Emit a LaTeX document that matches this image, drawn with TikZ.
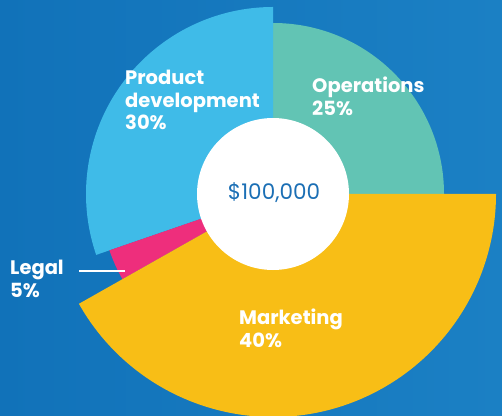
\documentclass[tikz,border=0pt]{standalone}
\usepackage{fontspec}
\setmainfont{Poppins}
\definecolor{bgleft}{HTML}{1172B9}
\definecolor{bgright}{HTML}{1B80C4}
\definecolor{opscol}{HTML}{62C4B4}
\definecolor{devcol}{HTML}{3FBBE8}
\definecolor{legcol}{HTML}{EE2E7C}
\definecolor{mktcol}{HTML}{F8BE16}
\definecolor{sumcol}{HTML}{1B6FB5}
\tikzset{
  lbl/.style={text=white, font=\fontsize{19.5}{22.5}\selectfont\bfseries, align=left, inner sep=0pt, anchor=north west},
}
\begin{document}
\begin{tikzpicture}[x=1pt,y=1pt]
  \useasboundingbox (0,0) rectangle (502,415);
  \shade[left color=bgleft, right color=bgright] (0,0) rectangle (502,415);
  \coordinate (c) at (273,221);
  % sectors
  \fill[opscol] (c) -- ++(0:171) arc[start angle=0, end angle=90, radius=171] -- cycle;
  \fill[devcol] (c) -- ++(90:187) arc[start angle=90, end angle=199, radius=187] -- cycle;
  \fill[legcol] (c) -- ++(199:173) arc[start angle=199, end angle=209.5, radius=173] -- cycle;
  \fill[mktcol] (c) -- ++(209.5:223) arc[start angle=209.5, end angle=360, radius=223] -- cycle;
  \node[circle, fill=white, minimum size=152pt, inner sep=0pt] (hub) at (c) {};
  \node[text=sumcol, font=\fontsize{21.5}{24}\selectfont] (sum) at (274,222) {\$100,000};
  % labels
  \node[lbl] (dev) at (125,345) {Product\\development\\30\%};
  \node[lbl] (ops) at (312,338) {Operations\\25\%};
  \node[lbl] (leg) at (10,155) {Legal\\5\%};
  \node[lbl] (mkt) at (239,106) {Marketing\\40\%};
  \coordinate (legtip) at (125,144);
  \draw[white, line width=1.3pt] (79,144) -- (legtip);
\end{tikzpicture}
\end{document}
